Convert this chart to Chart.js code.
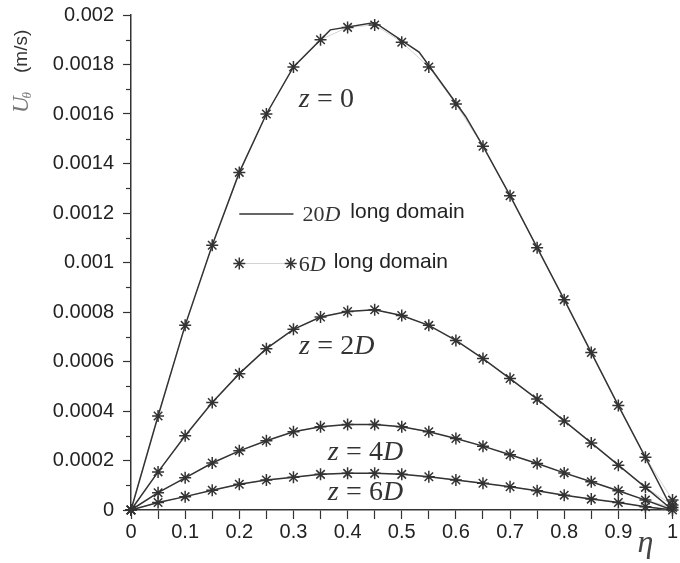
<!DOCTYPE html>
<html>
<head>
<meta charset="utf-8">
<script src="https://cdn.jsdelivr.net/npm/chart.js@4.4.1/dist/chart.umd.min.js"></script>
<style>
body { margin: 0; background: #fff; }
#wrap { width: 680px; height: 563px; }
</style>
</head>
<body>
<div id="wrap"><canvas id="chart_canvas" width="680" height="563"></canvas></div>
<script>
// eta positions of the 6D-domain samples
const eta = [0, 0.05, 0.1, 0.15, 0.2, 0.25, 0.3, 0.35, 0.4, 0.45, 0.5, 0.55, 0.6, 0.65, 0.7, 0.75, 0.8, 0.85, 0.9, 0.95, 1];

// 6D long domain (asterisks)
const z0_6D = [0, 0.00038, 0.000746, 0.00107, 0.001364, 0.0016, 0.00179, 0.0019, 0.00195, 0.00196, 0.00189, 0.00179, 0.00164, 0.00147, 0.00127, 0.00106, 0.00085, 0.000636, 0.000422, 0.000213, 0.00004];
const z2_6D = [0, 0.000154, 0.0003, 0.000434, 0.000551, 0.000652, 0.00073, 0.00078, 0.000802, 0.000809, 0.000786, 0.000746, 0.000685, 0.000612, 0.000531, 0.000448, 0.00036, 0.000271, 0.000181, 0.0000915, 0.00002];
const z4_6D = [0, 0.00007, 0.00013, 0.00019, 0.000239, 0.00028, 0.000316, 0.000336, 0.000345, 0.000345, 0.000336, 0.000316, 0.000289, 0.000258, 0.000223, 0.000188, 0.00015, 0.000114, 0.000078, 0.00004, 0.00001];
const z6_6D = [0, 0.00003, 0.000054, 0.00008, 0.000104, 0.000121, 0.000132, 0.000144, 0.000148, 0.000148, 0.000144, 0.000134, 0.000121, 0.000108, 0.000094, 0.000078, 0.00006, 0.000044, 0.00003, 0.000013, 0];

// 20D long domain (solid lines)
const eta20_z0 = [0, 0.05, 0.1, 0.15, 0.2, 0.25, 0.3, 0.368, 0.45, 0.532, 0.618, 0.65, 0.7, 0.75, 0.8, 0.85, 0.9, 0.95, 1];
const z0_20D = [0, 0.00038, 0.000746, 0.00107, 0.001364, 0.0016, 0.00179, 0.00194, 0.00197, 0.00185, 0.00159, 0.00147, 0.00127, 0.00106, 0.00085, 0.000636, 0.000422, 0.000213, 0];
const z2_20D = [0, 0.000154, 0.0003, 0.000434, 0.000551, 0.000652, 0.00073, 0.00078, 0.000802, 0.000809, 0.000786, 0.000746, 0.000685, 0.000612, 0.000531, 0.000448, 0.00036, 0.000271, 0.000181, 0.0000915, 0];
const z4_20D = [0, 0.00007, 0.00013, 0.00019, 0.000239, 0.00028, 0.000316, 0.000336, 0.000345, 0.000345, 0.000336, 0.000316, 0.000289, 0.000258, 0.000223, 0.000188, 0.00015, 0.000114, 0.000078, 0.00004, 0];
const z6_20D = [0, 0.00003, 0.000054, 0.00008, 0.000104, 0.000121, 0.000132, 0.000144, 0.000148, 0.000148, 0.000144, 0.000134, 0.000121, 0.000108, 0.000094, 0.000078, 0.00006, 0.000044, 0.00003, 0.000013, 0];

// curve labels
const curveLabels = ['z = 0', 'z = 2D', 'z = 4D', 'z = 6D'];
const curveLabelEta = [0.361, 0.38, 0.433, 0.433];
const curveLabelVal = [0.001657, 0.000661, 0.00023, 0.0000685];

const legendNames = ['20D', '6D'];
const legendText = 'long domain';

const ink = '#333';

function pts(xs, ys) {
    return xs.map((x, i) => ({x: x, y: ys[i]}));
}

// asterisks only, drawn on top
function starSet(ys) {
    return {
        data: pts(eta, ys),
        showLine: false,
        pointStyle: 'star',
        pointRadius: 6,
        pointBorderColor: ink,
        pointBackgroundColor: ink,
        pointBorderWidth: 1.5,
        clip: false,
        order: 0
    };
}

// faint line joining the 6D samples, at the bottom
function faintSet(ys) {
    return {
        data: pts(eta, ys),
        showLine: true,
        borderColor: '#d4d4d4',
        borderWidth: 1,
        pointRadius: 0,
        clip: false,
        order: 2
    };
}

function lineSet(xs, ys) {
    return {
        data: pts(xs, ys),
        showLine: true,
        borderColor: ink,
        borderWidth: 1.5,
        pointRadius: 0,
        tension: 0,
        clip: false,
        order: 1
    };
}

var datasets = [
    starSet(z0_6D), starSet(z2_6D), starSet(z4_6D), starSet(z6_6D),
    lineSet(eta20_z0, z0_20D), lineSet(eta, z2_20D), lineSet(eta, z4_20D), lineSet(eta, z6_20D),
    faintSet(z0_6D), faintSet(z2_6D), faintSet(z4_6D), faintSet(z6_6D)
];

// letters italic, digits and signs upright, like LaTeX math
function drawMath(c, str, x, y, size, align) {
    let parts = [];
    let total = 0;
    for (const ch of str) {
        let font, w;
        if (ch === ' ') {
            parts.push({ch: ch, w: size * 0.26});
            total += size * 0.26;
            continue;
        }
        font = (/[A-Za-z]/.test(ch) ? 'italic ' : '') + size + 'px "Liberation Serif"';
        c.font = font;
        w = c.measureText(ch).width;
        parts.push({ch: ch, w: w, font: font});
        total += w;
    }
    let cx = align === 'center' ? x - total / 2 : x;
    c.textAlign = 'left';
    for (const p of parts) {
        if (p.font) {
            c.font = p.font;
            c.fillText(p.ch, cx, y);
        }
        cx += p.w;
    }
    return cx;
}

function drawStar(c, x, y, r) {
    c.beginPath();
    for (let k = 0; k < 4; k++) {
        const a = k * Math.PI / 4;
        c.moveTo(x - Math.cos(a) * r, y - Math.sin(a) * r);
        c.lineTo(x + Math.cos(a) * r, y + Math.sin(a) * r);
    }
    c.stroke();
}

const decor = {
    id: 'decor',
    afterDraw(chart) {
        const c = chart.ctx;
        const xs = chart.scales.x, ys = chart.scales.y;
        const area = chart.chartArea;
        c.save();

        // minor y ticks
        c.strokeStyle = ink;
        c.lineWidth = 1.2;
        for (let k = 1; k < 20; k += 2) {
            const py = Math.round(ys.getPixelForValue(k * 0.0001)) + 0.5;
            c.beginPath();
            c.moveTo(area.left - 5, py);
            c.lineTo(area.left, py);
            c.stroke();
        }

        // curve labels
        c.fillStyle = ink;
        c.textBaseline = 'middle';
        curveLabels.forEach((t, i) => {
            drawMath(c, t, xs.getPixelForValue(curveLabelEta[i]), ys.getPixelForValue(curveLabelVal[i]), 28, 'center');
        });

        // legend
        const lx0 = xs.getPixelForValue(0.2), lx1 = xs.getPixelForValue(0.3);
        const ly1 = ys.getPixelForValue(0.0012) + 1, ly2 = ys.getPixelForValue(0.001) + 1;
        c.strokeStyle = ink;
        c.lineWidth = 1.5;
        c.beginPath();
        c.moveTo(lx0, ly1);
        c.lineTo(lx1, ly1);
        c.stroke();
        c.textBaseline = 'alphabetic';
        let ex = drawMath(c, legendNames[0], lx1 + 9, ly1 + 7, 22, 'left');
        c.font = '21px "Liberation Sans"';
        c.fillStyle = '#222';
        c.fillText(legendText, ex + 10, ly1 + 4);

        const sx1 = xs.getPixelForValue(0.295);
        c.strokeStyle = '#d4d4d4';
        c.lineWidth = 1;
        c.beginPath();
        c.moveTo(lx0, ly2);
        c.lineTo(sx1, ly2);
        c.stroke();
        c.strokeStyle = ink;
        c.lineWidth = 1.5;
        drawStar(c, lx0, ly2, 6);
        drawStar(c, sx1, ly2, 6);
        c.fillStyle = ink;
        ex = drawMath(c, legendNames[1], sx1 + 8, ly2 + 7, 22, 'left');
        c.font = '21px "Liberation Sans"';
        c.fillStyle = '#222';
        c.fillText(legendText, ex + 8, ly2 + 4);

        // y axis title, rotated
        c.save();
        c.translate(area.left - 109, 113);
        c.rotate(-Math.PI / 2);
        c.textBaseline = 'middle';
        c.fillStyle = '#777';
        c.font = 'italic 23px "Liberation Serif"';
        c.textAlign = 'left';
        c.fillText('U', 0, 0);
        const uw = c.measureText('U').width;
        c.font = 'italic 13px "Liberation Serif"';
        c.fillText('\u03b8', uw - 2, 6);
        c.fillStyle = '#333';
        c.font = '19px "Liberation Sans"';
        c.fillText('(m/s)', 40, 0);
        c.restore();

        // eta label
        c.fillStyle = '#444';
        c.textBaseline = 'middle';
        c.textAlign = 'center';
        c.font = 'italic 32px "Liberation Serif"';
        c.fillText('\u03b7', area.right - 27, area.bottom + 34);

        c.restore();
    }
};

function fmt(v) {
    return parseFloat(v.toFixed(4)).toString();
}

const ctx = document.getElementById('chart_canvas');

var chartDraw = new Chart(ctx, {
    type: 'scatter',
    data: {datasets: datasets},
    options: {
        responsive: false,
        animation: false,
        layout: {padding: {top: 15, right: 3, left: 0, bottom: 0}},
        plugins: {legend: {display: false}, tooltip: {enabled: false}},
        scales: {
            x: {
                type: 'linear',
                min: 0,
                max: 1,
                afterFit: function (s) {
                    s.height = 53;
                    s.paddingLeft = 0;
                    s.paddingRight = 0;
                },
                border: {color: ink, width: 1.5},
                grid: {drawOnChartArea: false, tickLength: 9, color: ink, tickWidth: 1.2},
                ticks: {
                    stepSize: 0.05,
                    autoSkip: false,
                    maxRotation: 0,
                    padding: 1,
                    color: '#222',
                    font: {family: 'Liberation Sans', size: 20},
                    callback: function (v) {
                        const k = Math.round(v / 0.05);
                        return k % 2 ? '' : String(Math.round(v * 10) / 10);
                    }
                }
            },
            y: {
                type: 'linear',
                min: 0,
                max: 0.002,
                afterFit: function (s) {
                    s.width = 131;
                    s.paddingTop = 0;
                    s.paddingBottom = 0;
                },
                border: {color: ink, width: 1.5},
                grid: {
                    drawOnChartArea: false,
                    tickLength: 8,
                    tickWidth: 1.2,
                    tickColor: function (c) {
                        if (!c.tick) return ink;
                        return Math.round(c.tick.value / 0.0001) % 2 ? 'rgba(0,0,0,0)' : ink;
                    }
                },
                ticks: {
                    stepSize: 0.0001,
                    autoSkip: false,
                    padding: 9,
                    color: '#222',
                    font: {family: 'Liberation Sans', size: 20},
                    callback: function (v) {
                        const k = Math.round(v / 0.0001);
                        return k % 2 ? '' : fmt(k * 0.0001);
                    }
                }
            }
        }
    },
    plugins: [decor]
});
</script>
</body>
</html>
